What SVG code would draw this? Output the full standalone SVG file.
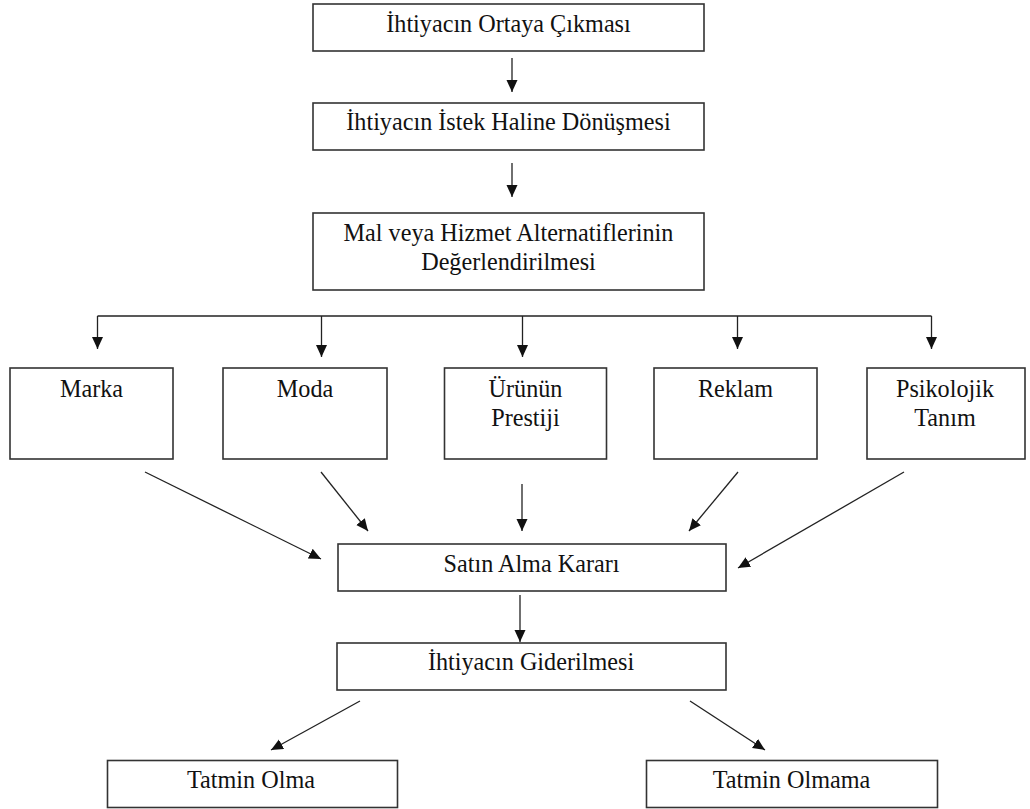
<svg xmlns="http://www.w3.org/2000/svg" width="1030" height="809" viewBox="0 0 1030 809">
  <style>
    .box { fill: #ffffff; stroke: #333333; stroke-width: 1.6; }
    .lbl { font-family: "Liberation Serif", "Times New Roman", serif; font-size: 24.2px; fill: #111111; text-anchor: middle; }
    .edge { fill: none; stroke: #222222; stroke-width: 1.3; }
    .arrow { marker-end: url(#head); }
  </style>
  <defs>
    <marker id="head" markerUnits="userSpaceOnUse" markerWidth="14" markerHeight="12" refX="12" refY="5.5" orient="auto">
      <path d="M0,0 L12,5.5 L0,11 Z" fill="#111111"/>
    </marker>
  </defs>
  <rect width="1030" height="809" fill="#ffffff"/>

  <g id="connectors">
    <!-- main vertical flow -->
    <line class="edge arrow" x1="512" y1="58" x2="512" y2="92"/>
    <line class="edge arrow" x1="512" y1="163" x2="512" y2="197"/>
    <!-- branch bar to the five factors -->
    <line class="edge" x1="97.5" y1="316" x2="931.5" y2="316"/>
    <line class="edge arrow" x1="97.5" y1="316" x2="97.5" y2="349"/>
    <line class="edge arrow" x1="321.5" y1="316" x2="321.5" y2="357"/>
    <line class="edge arrow" x1="522.5" y1="316" x2="522.5" y2="357"/>
    <line class="edge arrow" x1="737.5" y1="316" x2="737.5" y2="349"/>
    <line class="edge arrow" x1="931.5" y1="316" x2="931.5" y2="349"/>
    <!-- factors into the purchase decision -->
    <line class="edge arrow" x1="145" y1="472" x2="321" y2="559"/>
    <line class="edge arrow" x1="321" y1="472" x2="368" y2="531"/>
    <line class="edge arrow" x1="522" y1="484" x2="522" y2="531"/>
    <line class="edge arrow" x1="738" y1="472" x2="689" y2="531"/>
    <line class="edge arrow" x1="904" y1="472" x2="738" y2="568"/>
    <!-- decision to outcome -->
    <line class="edge arrow" x1="520" y1="595" x2="520" y2="642"/>
    <line class="edge arrow" x1="360" y1="701" x2="271" y2="750"/>
    <line class="edge arrow" x1="690" y1="701" x2="765" y2="750"/>
  </g>

  <g id="n-ortaya-cikma">
    <rect class="box" x="313" y="4" width="391" height="47"/>
    <text class="lbl" x="508.5" y="32">İhtiyacın Ortaya Çıkması</text>
  </g>
  <g id="n-istek">
    <rect class="box" x="313" y="103" width="391" height="47"/>
    <text class="lbl" x="508.5" y="130">İhtiyacın İstek Haline Dönüşmesi</text>
  </g>
  <g id="n-degerlendirme">
    <rect class="box" x="313" y="213" width="391" height="77"/>
    <text class="lbl" x="508.5" y="241">Mal veya Hizmet Alternatiflerinin</text>
    <text class="lbl" x="508.5" y="270">Değerlendirilmesi</text>
  </g>

  <g id="n-marka">
    <rect class="box" x="10" y="368" width="163" height="91"/>
    <text class="lbl" x="91.5" y="397">Marka</text>
  </g>
  <g id="n-moda">
    <rect class="box" x="223" y="368" width="164" height="91"/>
    <text class="lbl" x="305" y="397">Moda</text>
  </g>
  <g id="n-prestij">
    <rect class="box" x="444.5" y="368" width="162" height="91"/>
    <text class="lbl" x="525.5" y="397">Ürünün</text>
    <text class="lbl" x="525.5" y="426">Prestiji</text>
  </g>
  <g id="n-reklam">
    <rect class="box" x="654" y="368" width="163" height="91"/>
    <text class="lbl" x="735.5" y="397">Reklam</text>
  </g>
  <g id="n-psikolojik">
    <rect class="box" x="867" y="368" width="158" height="91"/>
    <text class="lbl" x="945" y="397">Psikolojik</text>
    <text class="lbl" x="945" y="426">Tanım</text>
  </g>

  <g id="n-karar">
    <rect class="box" x="338" y="544" width="388" height="47"/>
    <text class="lbl" x="531.5" y="572">Satın Alma Kararı</text>
  </g>
  <g id="n-giderilme">
    <rect class="box" x="337" y="643" width="389" height="47"/>
    <text class="lbl" x="531" y="670">İhtiyacın Giderilmesi</text>
  </g>

  <g id="n-tatmin-olma">
    <rect class="box" x="107.5" y="760.5" width="290" height="47"/>
    <text class="lbl" x="251" y="788">Tatmin Olma</text>
  </g>
  <g id="n-tatmin-olmama">
    <rect class="box" x="646.5" y="760.5" width="291" height="47"/>
    <text class="lbl" x="791.5" y="788">Tatmin Olmama</text>
  </g>
</svg>
